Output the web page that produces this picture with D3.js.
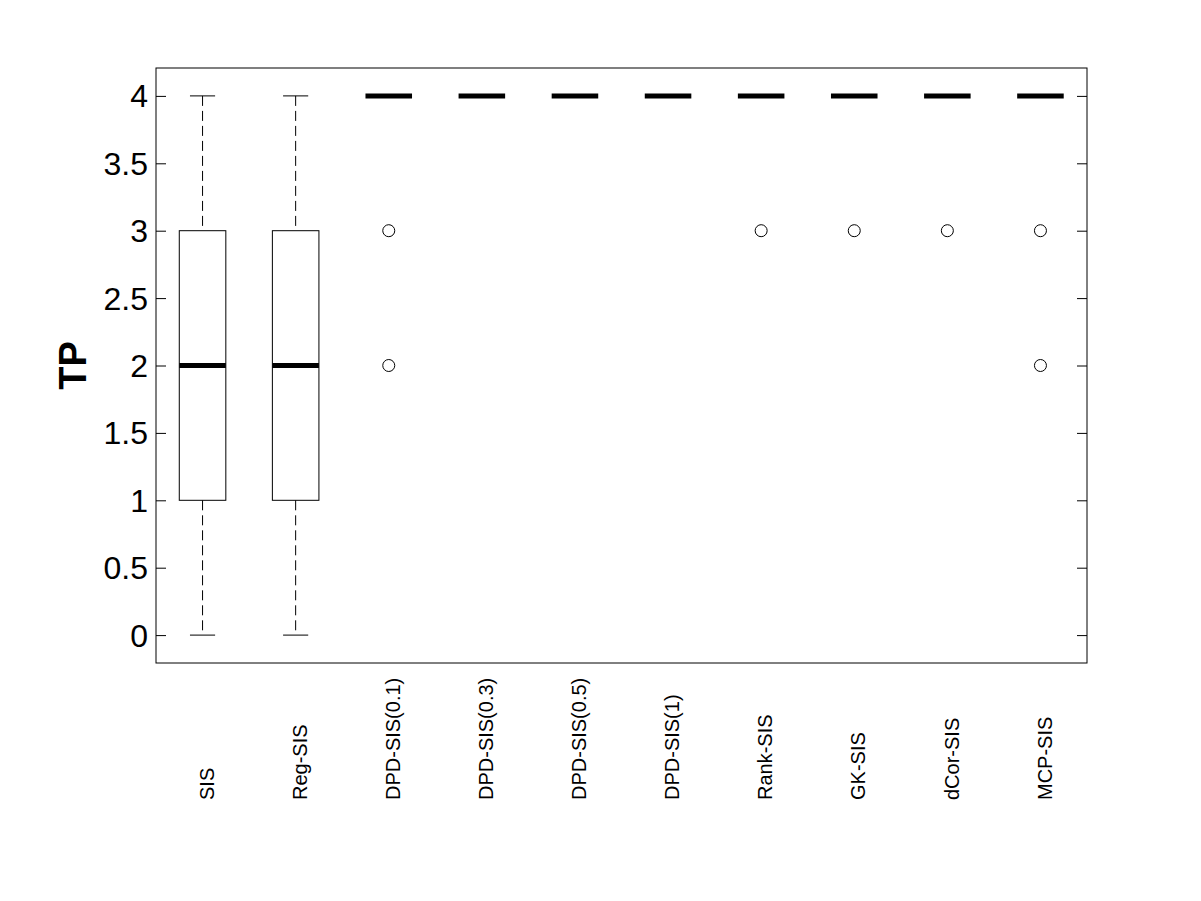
<!DOCTYPE html>
<html>
<head>
<meta charset="utf-8">
<script src="https://cdn.jsdelivr.net/npm/d3@7"></script>
<style>
  body { margin: 0; background: #fff; }
  text { font-family: "Liberation Sans", Arial, sans-serif; }
</style>
</head>
<body>
<div id="chart"></div>
<script>
// Data
var methods    = ['SIS', 'Reg-SIS', 'DPD-SIS(0.1)', 'DPD-SIS(0.3)', 'DPD-SIS(0.5)', 'DPD-SIS(1)', 'Rank-SIS', 'GK-SIS', 'dCor-SIS', 'MCP-SIS'];
var whisker_lo = [0, 0, 4, 4, 4, 4, 4, 4, 4, 4];
var q1_values  = [1, 1, 4, 4, 4, 4, 4, 4, 4, 4];
var medians    = [2, 2, 4, 4, 4, 4, 4, 4, 4, 4];
var q3_values  = [3, 3, 4, 4, 4, 4, 4, 4, 4, 4];
var whisker_hi = [4, 4, 4, 4, 4, 4, 4, 4, 4, 4];
var outliers   = [[], [], [3, 2], [], [], [], [3], [3], [3], [3, 2]];
var y_ticks    = [0, 0.5, 1, 1.5, 2, 2.5, 3, 3.5, 4];

var chart_width  = 1201;
var chart_height = 901;
var margin = {left: 156, top: 68, right: 1201 - 1087, bottom: 901 - 663};
var plot_w = chart_width - margin.left - margin.right;
var plot_h = chart_height - margin.top - margin.bottom;

var boxes = methods.map(function(m, i){
	return {
		name: m, lo: whisker_lo[i], q1: q1_values[i], med: medians[i],
		q3: q3_values[i], hi: whisker_hi[i], out: outliers[i]
	};
});

var svg = d3.select('#chart')
	.append('svg')
	.attr('width', chart_width)
	.attr('height', chart_height);

var g = svg.append('g')
	.attr('transform', 'translate(' + margin.left + ',' + margin.top + ')');

var x = d3.scaleBand()
	.domain(methods)
	.range([0, plot_w]);

var y = d3.scaleLinear()
	.domain([-0.207, 4.207])
	.range([plot_h, 0]);

var box_w = x.bandwidth() * 0.5;
var cap_w = x.bandwidth() * 0.27;

// y axes (left and right, ticks inside)
var left_axis = g.append('g')
	.call(d3.axisRight(y).tickValues(y_ticks).tickSize(10).tickFormat(''));
left_axis.select('.domain').remove();
left_axis.selectAll('line').attr('stroke', '#000');

var right_axis = g.append('g')
	.attr('transform', 'translate(' + plot_w + ',0)')
	.call(d3.axisLeft(y).tickValues(y_ticks).tickSize(10).tickFormat(''));
right_axis.select('.domain').remove();
right_axis.selectAll('line').attr('stroke', '#000');

g.selectAll('.ylab')
	.data(y_ticks)
	.enter()
	.append('text')
	.attr('class', 'ylab')
	.attr('x', -8)
	.attr('y', function(d){ return y(d); })
	.attr('dy', '0.36em')
	.attr('text-anchor', 'end')
	.attr('font-size', 32)
	.text(function(d){ return d; });

// frame
g.append('rect')
	.attr('x', 0)
	.attr('y', 0)
	.attr('width', plot_w)
	.attr('height', plot_h)
	.attr('fill', 'none')
	.attr('stroke', '#000')
	.attr('stroke-width', 1);

var bx = g.selectAll('.box')
	.data(boxes)
	.enter()
	.append('g')
	.attr('class', 'box')
	.attr('transform', function(d){
		return 'translate(' + (x(d.name) + x.bandwidth() / 2) + ',0)';
	});

// whiskers
bx.append('line')
	.attr('x1', 0).attr('x2', 0)
	.attr('y1', function(d){ return y(d.hi); })
	.attr('y2', function(d){ return y(d.q3); })
	.attr('stroke', '#000')
	.attr('stroke-dasharray', '10,5');
bx.append('line')
	.attr('x1', 0).attr('x2', 0)
	.attr('y1', function(d){ return y(d.q1); })
	.attr('y2', function(d){ return y(d.lo); })
	.attr('stroke', '#000')
	.attr('stroke-dasharray', '10,5');

// caps
bx.selectAll('.cap')
	.data(function(d){ return [d.lo, d.hi]; })
	.enter()
	.append('line')
	.attr('class', 'cap')
	.attr('x1', -cap_w / 2).attr('x2', cap_w / 2)
	.attr('y1', function(v){ return y(v); })
	.attr('y2', function(v){ return y(v); })
	.attr('stroke', '#000');

// box
bx.append('rect')
	.attr('x', -box_w / 2)
	.attr('width', box_w)
	.attr('y', function(d){ return y(d.q3); })
	.attr('height', function(d){ return y(d.q1) - y(d.q3); })
	.attr('fill', 'none')
	.attr('stroke', '#000');

// median
bx.append('line')
	.attr('x1', -box_w / 2).attr('x2', box_w / 2)
	.attr('y1', function(d){ return y(d.med); })
	.attr('y2', function(d){ return y(d.med); })
	.attr('stroke', '#000')
	.attr('stroke-width', 5);

// outliers
bx.selectAll('circle')
	.data(function(d){ return d.out; })
	.enter()
	.append('circle')
	.attr('cx', 0)
	.attr('cy', function(v){ return y(v); })
	.attr('r', 6)
	.attr('fill', 'none')
	.attr('stroke', '#000');

// x labels, rotated
g.selectAll('.xlab')
	.data(methods)
	.enter()
	.append('text')
	.attr('class', 'xlab')
	.attr('transform', function(d){
		return 'translate(' + (x(d) + x.bandwidth() / 2 + 4) + ',' + (800 - margin.top) + ') rotate(-90)';
	})
	.attr('dy', '0.36em')
	.attr('text-anchor', 'start')
	.attr('font-size', 20)
	.text(function(d){ return d; });

// y title
svg.append('text')
	.attr('transform', 'translate(72,' + (margin.top + plot_h / 2) + ') rotate(-90)')
	.attr('dy', '0.36em')
	.attr('text-anchor', 'middle')
	.attr('font-size', 38)
	.attr('font-weight', 'bold')
	.text('TP');
</script>
</body>
</html>
